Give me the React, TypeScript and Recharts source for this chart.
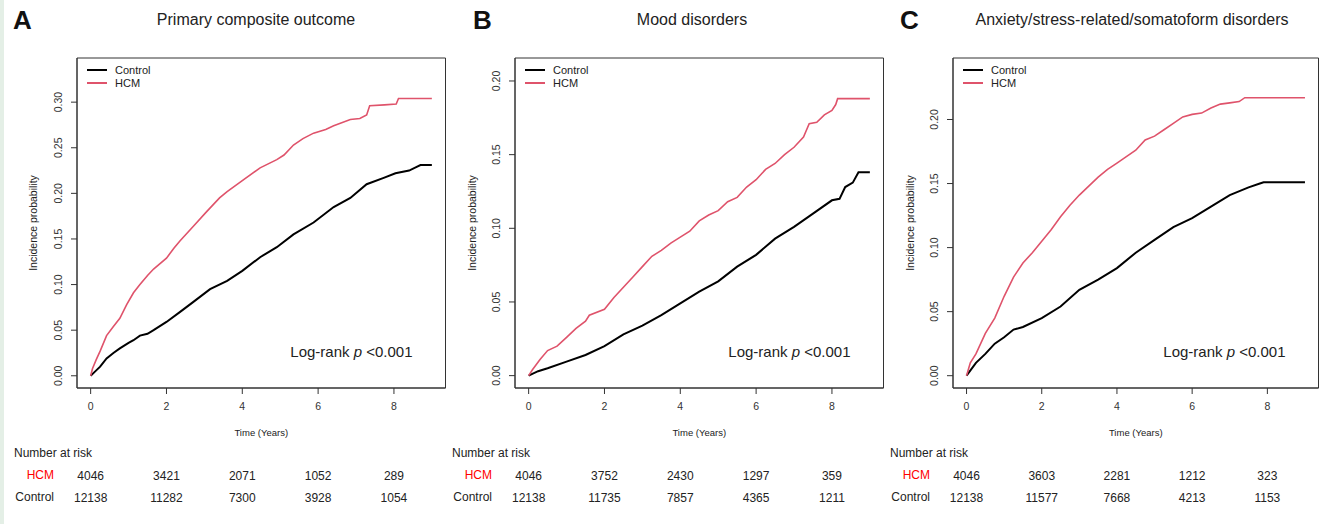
import React from "react";
import { LineChart, Line, XAxis, YAxis, Legend, ReferenceArea } from "recharts";

const FONT = "'Liberation Sans', Arial, sans-serif";
const RED = "#df536b";

// follow-up years shown on the time axis
const timeTicks = [0, 2, 4, 6, 8];

// cumulative incidence, [years, probability]
const aControl = [
  [0, 0], [0.1, 0.004], [0.25, 0.01], [0.42, 0.019], [0.6, 0.025], [0.77, 0.03],
  [1.0, 0.036], [1.13, 0.039], [1.3, 0.044], [1.5, 0.046], [1.66, 0.05], [2.0, 0.059],
  [2.36, 0.07], [2.71, 0.081], [3.15, 0.095], [3.6, 0.104], [4.0, 0.115], [4.47, 0.13],
  [4.91, 0.141], [5.35, 0.155], [5.88, 0.168], [6.41, 0.185], [6.85, 0.195], [7.28, 0.21],
  [7.73, 0.217], [8.04, 0.222], [8.4, 0.225], [8.6, 0.229], [8.7, 0.231], [9.0, 0.231],
];
const aHcm = [
  [0, 0], [0.05, 0.008], [0.15, 0.018], [0.25, 0.027], [0.42, 0.044], [0.6, 0.054],
  [0.77, 0.063], [0.95, 0.078], [1.13, 0.091], [1.3, 0.1], [1.5, 0.11], [1.66, 0.117],
  [2.0, 0.129], [2.2, 0.14], [2.36, 0.148], [2.71, 0.164], [3.06, 0.18], [3.4, 0.195],
  [3.6, 0.202], [4.0, 0.214], [4.47, 0.228], [4.91, 0.237], [5.1, 0.242], [5.35, 0.253],
  [5.6, 0.26], [5.88, 0.266], [6.2, 0.27], [6.41, 0.274], [6.85, 0.281], [7.1, 0.282],
  [7.28, 0.286], [7.36, 0.296], [7.75, 0.297], [8.06, 0.298], [8.12, 0.304], [9.0, 0.304],
];
const bControl = [
  [0, 0], [0.25, 0.003], [0.5, 0.005], [1.0, 0.0095], [1.5, 0.014], [2.0, 0.02],
  [2.5, 0.028], [3.0, 0.034], [3.5, 0.041], [4.0, 0.049], [4.5, 0.057], [5.0, 0.064],
  [5.5, 0.074], [6.0, 0.082], [6.5, 0.093], [7.0, 0.101], [7.5, 0.11], [8.0, 0.119],
  [8.2, 0.12], [8.35, 0.128], [8.55, 0.131], [8.7, 0.138], [9.0, 0.138],
];
const bHcm = [
  [0, 0], [0.1, 0.004], [0.3, 0.011], [0.5, 0.017], [0.75, 0.02], [1.0, 0.026],
  [1.25, 0.032], [1.5, 0.037], [1.6, 0.041], [2.0, 0.045], [2.25, 0.053], [2.5, 0.06],
  [2.75, 0.067], [3.0, 0.074], [3.25, 0.081], [3.5, 0.085], [3.75, 0.09], [4.0, 0.094],
  [4.25, 0.098], [4.5, 0.105], [4.75, 0.109], [5.0, 0.112], [5.25, 0.118], [5.5, 0.121],
  [5.75, 0.128], [6.0, 0.133], [6.25, 0.14], [6.5, 0.144], [6.75, 0.15], [7.0, 0.155],
  [7.25, 0.162], [7.4, 0.171], [7.6, 0.172], [7.8, 0.177], [8.0, 0.18], [8.1, 0.184],
  [8.15, 0.188], [9.0, 0.188],
];
const cControl = [
  [0, 0], [0.25, 0.01], [0.5, 0.017], [0.75, 0.025], [1.0, 0.03], [1.25, 0.036],
  [1.5, 0.038], [2.0, 0.045], [2.5, 0.054], [3.0, 0.067], [3.5, 0.075], [4.0, 0.084],
  [4.5, 0.096], [5.0, 0.106], [5.5, 0.116], [6.0, 0.123], [6.5, 0.132], [7.0, 0.141],
  [7.5, 0.147], [7.8, 0.15], [7.9, 0.151], [9.0, 0.151],
];
const cHcm = [
  [0, 0], [0.1, 0.01], [0.25, 0.017], [0.5, 0.033], [0.75, 0.045], [1.0, 0.062],
  [1.25, 0.077], [1.5, 0.088], [1.75, 0.096], [2.0, 0.105], [2.25, 0.114], [2.5, 0.124],
  [2.75, 0.133], [3.0, 0.141], [3.25, 0.148], [3.5, 0.155], [3.75, 0.161], [4.0, 0.166],
  [4.25, 0.171], [4.5, 0.176], [4.75, 0.184], [5.0, 0.187], [5.25, 0.192], [5.5, 0.197],
  [5.75, 0.202], [6.0, 0.204], [6.25, 0.205], [6.5, 0.209], [6.75, 0.212], [7.0, 0.213],
  [7.25, 0.214], [7.4, 0.217], [9.0, 0.217],
];

// number at risk at 0, 2, 4, 6, 8 years
const aRiskHcm = [4046, 3421, 2071, 1052, 289];
const aRiskControl = [12138, 11282, 7300, 3928, 1054];
const bRiskHcm = [4046, 3752, 2430, 1297, 359];
const bRiskControl = [12138, 11735, 7857, 4365, 1211];
const cRiskHcm = [4046, 3603, 2281, 1212, 323];
const cRiskControl = [12138, 11577, 7668, 4213, 1153];

const aYTicks = [0, 0.05, 0.1, 0.15, 0.2, 0.25, 0.3];
const bYTicks = [0, 0.05, 0.1, 0.15, 0.2];
const cYTicks = [0, 0.05, 0.1, 0.15, 0.2];

const toPoints = (pairs) => pairs.map(([t, v]) => ({ t, v }));

const panels = [
  {
    letter: "A", title: "Primary composite outcome",
    control: aControl, hcm: aHcm, yTicks: aYTicks, yDomain: [-0.0134, 0.3484],
    riskHcm: aRiskHcm, riskControl: aRiskControl,
  },
  {
    letter: "B", title: "Mood disorders",
    control: bControl, hcm: bHcm, yTicks: bYTicks, yDomain: [-0.0084, 0.2156],
    riskHcm: bRiskHcm, riskControl: bRiskControl,
  },
  {
    letter: "C", title: "Anxiety/stress-related/somatoform disorders",
    control: cControl, hcm: cHcm, yTicks: cYTicks, yDomain: [-0.0096, 0.248],
    riskHcm: cRiskHcm, riskControl: cRiskControl,
  },
];

// page placement of each panel
const layouts = [
  { left: 0, width: 447, yAxisW: 77, labelX: 33, letterX: 13, titleX: 256 },
  { left: 448, width: 437, yAxisW: 67, labelX: 24, letterX: 473, titleX: 692 },
  { left: 886, width: 434, yAxisW: 67, labelX: 24, letterX: 900, titleX: 1132 },
];

const H = 524;
const PLOT_TOP = 58;
const X_DOMAIN = [-0.36, 9.36];

const YTick = ({ x, y, payload }) => (
  <text x={x} y={y} transform={`rotate(-90 ${x} ${y})`} textAnchor="middle"
    fontSize={10.5} fontFamily={FONT} fill="#333">
    {payload.value.toFixed(2)}
  </text>
);

// time label under the tick, plus the number-at-risk rows for that time
const makeXTick = (hcm, control) => ({ x, y, payload }) => {
  const i = timeTicks.indexOf(payload.value);
  return (
    <g fontFamily={FONT} textAnchor="middle">
      <text x={x} y={y} dy="0.71em" fontSize={10.5} fill="#333">{payload.value}</text>
      <text x={x} y={480} fontSize={12} fill="#222">{hcm[i]}</text>
      <text x={x} y={502} fontSize={12} fill="#222">{control[i]}</text>
    </g>
  );
};

const KmLegend = ({ payload }) => (
  <div style={{ fontFamily: FONT, fontSize: 11, color: "#222", lineHeight: "12.6px" }}>
    {(payload || []).map((p) => (
      <div key={p.value} style={{ display: "flex", alignItems: "center" }}>
        <span style={{ display: "inline-block", width: 20, height: 2, background: p.color, marginRight: 8 }} />
        {p.value}
      </div>
    ))}
  </div>
);

function Panel({ panel, layout }) {
  const plotLeft = layout.left + layout.yAxisW;
  const plotRight = layout.left + layout.width - 1.5;
  return (
    <>
      <div style={{ position: "absolute", left: layout.letterX, top: 5, fontFamily: FONT, fontWeight: 900, fontSize: 26, lineHeight: "30px", color: "#111" }}>
        {panel.letter}
      </div>
      <div style={{ position: "absolute", left: layout.titleX - 250, width: 500, top: 10, textAlign: "center", fontFamily: FONT, fontSize: 16, lineHeight: "20px", color: "#222" }}>
        {panel.title}
      </div>
      <div style={{ position: "absolute", left: layout.left }}>
        <LineChart width={layout.width} height={H} margin={{ top: PLOT_TOP, right: 1.5, bottom: 0, left: 0 }}>
          <XAxis dataKey="t" type="number" domain={X_DOMAIN} allowDataOverflow ticks={timeTicks}
            height={136} tickSize={6} tickMargin={9} tick={makeXTick(panel.riskHcm, panel.riskControl)} stroke="#333"
            label={{ value: "Time (Years)", position: "insideTop", offset: 41, fontSize: 9.5, fontFamily: FONT, fill: "#222" }} />
          <YAxis type="number" domain={panel.yDomain} allowDataOverflow ticks={panel.yTicks}
            width={layout.yAxisW} tickSize={6} tickMargin={9} tick={<YTick />} stroke="#333"
            label={{ value: "Incidence probability", angle: -90, position: "insideLeft", offset: layout.labelX,
              fontSize: 10.5, fontFamily: FONT, fill: "#222", style: { textAnchor: "middle" } }} />
          <ReferenceArea x1={X_DOMAIN[0]} x2={X_DOMAIN[1]} y1={panel.yDomain[0]} y2={panel.yDomain[1]}
            fill="none" stroke="#333" strokeWidth={1} ifOverflow="visible" />
          <Legend layout="vertical" align="center" verticalAlign="middle" content={<KmLegend />}
            wrapperStyle={{ left: layout.yAxisW + 10, top: 64, width: "auto" }} />
          <Line name="Control" data={toPoints(panel.control)} dataKey="v" type="linear" stroke="#000"
            strokeWidth={2} dot={false} isAnimationActive={false} />
          <Line name="HCM" data={toPoints(panel.hcm)} dataKey="v" type="linear" stroke={RED}
            strokeWidth={1.6} dot={false} isAnimationActive={false} />
        </LineChart>
      </div>
      <div style={{ position: "absolute", left: plotRight - 33 - 200, width: 200, top: 341, textAlign: "right", fontFamily: FONT, fontSize: 15, lineHeight: "22px", color: "#222" }}>
        Log-rank <i>p</i> &lt;0.001
      </div>
      <div style={{ position: "absolute", left: plotLeft - 63, top: 445, fontFamily: FONT, fontSize: 12, lineHeight: "16px", color: "#222" }}>
        Number at risk
      </div>
      <div style={{ position: "absolute", left: plotLeft - 123, width: 100, top: 467, textAlign: "right", fontFamily: FONT, fontSize: 12, lineHeight: "16px", color: "#ff0000" }}>
        HCM
      </div>
      <div style={{ position: "absolute", left: plotLeft - 123, width: 100, top: 489, textAlign: "right", fontFamily: FONT, fontSize: 12, lineHeight: "16px", color: "#222" }}>
        Control
      </div>
    </>
  );
}

export default function App() {
  return (
    <div style={{ position: "relative", width: 1320, height: H, background: "#fff", overflow: "hidden" }}>
      <style>{"body{margin:0}"}</style>
      <div style={{ position: "absolute", left: 0, top: 0, width: 4, height: H, background: "#e4efe6" }} />
      {panels.map((p, i) => (
        <Panel key={p.letter} panel={p} layout={layouts[i]} />
      ))}
    </div>
  );
}
